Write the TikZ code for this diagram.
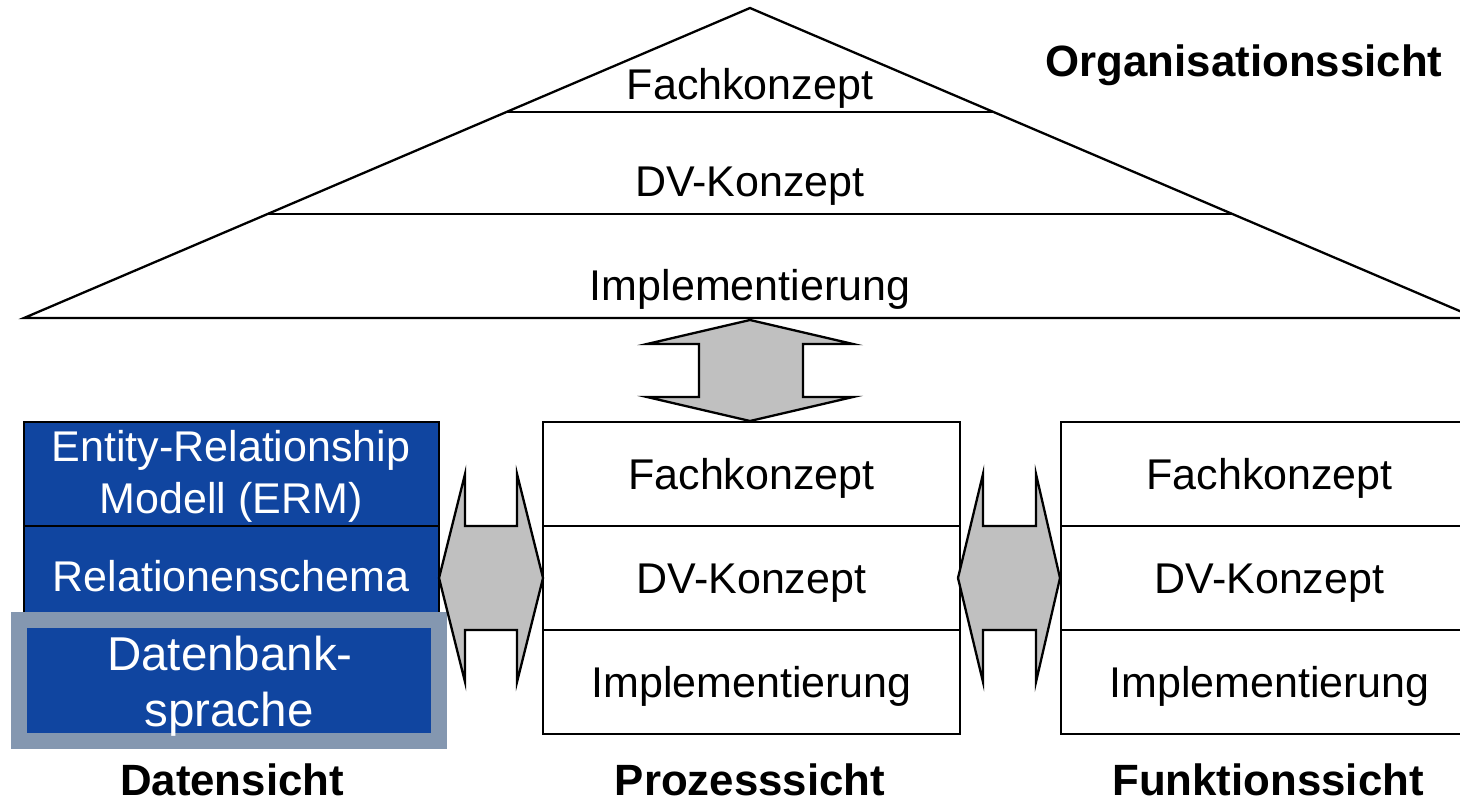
\documentclass[tikz,border=0pt]{standalone}
\usepackage{fontspec}
\setmainfont{Liberation Sans}
\definecolor{darkblue}{RGB}{16,69,160}
\definecolor{frameblue}{RGB}{132,151,176}
\definecolor{arrowgray}{RGB}{192,192,192}
\tikzset{
  lw/.style={line width=2.3pt},
  txt/.style={font=\fontsize{43}{52}\selectfont, inner sep=0pt},
  bigtxt/.style={font=\fontsize{47.5}{56}\selectfont, inner sep=0pt},
  boldtxt/.style={font=\fontsize{43.8}{52}\selectfont\bfseries, inner sep=0pt, anchor=base},
  cell/.style={lw, draw=black, fill=white, minimum width=417pt, minimum height=104pt,
     inner sep=0pt, text height=30.8pt, text depth=0pt, font=\fontsize{43}{52}\selectfont},
  bluecell/.style={lw, draw=black, fill=darkblue, text=white, minimum width=415pt, minimum height=104pt, inner sep=0pt},
  blockarrow/.style={lw, draw=black, fill=arrowgray, line join=miter},
}
\begin{document}
\begin{tikzpicture}[x=1pt,y=-1pt]
\clip (0,0) rectangle (1460,803);
\fill[white] (0,0) rectangle (1460,803);
% Organisationssicht triangle
\coordinate (apex) at (750,8);
\coordinate (bl) at (24,318);
\coordinate (br) at (1476,318);
\draw[lw, line join=miter] (bl) -- (apex) -- (br) -- cycle;
\draw[lw] (506,112) -- (994,112);
\draw[lw] (268,214) -- (1232,214);
\node[txt, anchor=base] (ofk) at (750,99) {Fachkonzept};
\node[txt, anchor=base] (odv) at (750,196) {DV-Konzept};
\node[txt, anchor=base] (oim) at (750,300) {Implementierung};
\node[boldtxt] (org) at (1244,76) {Organisationssicht};
% Prozesssicht
\node[cell] (pfk) at (751.5,474) {Fachkonzept};
\node[cell] (pdv) at (751.5,578) {DV-Konzept};
\node[cell] (pim) at (751.5,682) {Implementierung};
% Funktionssicht
\node[cell] (ffk) at (1269.5,474) {Fachkonzept};
\node[cell] (fdv) at (1269.5,578) {DV-Konzept};
\node[cell] (fim) at (1269.5,682) {Implementierung};
% Datensicht
\node[bluecell] (derm) at (231.5,474) {};
\node[bluecell] (drel) at (231.5,578) {};
\node[fill=frameblue, minimum width=436pt, minimum height=137pt, inner sep=0pt] (ddbframe) at (229,680.5) {};
\node[fill=darkblue, minimum width=404pt, minimum height=105pt, inner sep=0pt] (ddb) at (229,680.5) {};
\node[txt, text=white, anchor=base] (t1) at (231,461) {Entity-Relationship};
\node[txt, text=white, anchor=base] (t2) at (231,513) {Modell (ERM)};
\node[txt, text=white, anchor=base] (t3) at (231,591) {Relationenschema};
\node[bigtxt, text=white, anchor=base] (t4) at (230,670) {Datenbank-};
\node[bigtxt, text=white, anchor=base] (t5) at (229,726) {sprache};
% labels
\node[boldtxt] (ld) at (232,795) {Datensicht};
\node[boldtxt] (lp) at (750,795) {Prozesssicht};
\node[boldtxt] (lf) at (1268,795) {Funktionssicht};
% block arrows
\draw[blockarrow] (750,320) -- (853,344) -- (803,344) -- (803,397) -- (853,397) -- (750,421)
  -- (647,397) -- (699,397) -- (699,344) -- (647,344) -- cycle;
\draw[blockarrow] (439,578) -- (465,474) -- (465,526) -- (517,526) -- (517,474) -- (543,578)
  -- (517,682) -- (517,630) -- (465,630) -- (465,682) -- cycle;
\draw[blockarrow] (958,578) -- (983,474) -- (983,526) -- (1036,526) -- (1036,474) -- (1060,578)
  -- (1036,682) -- (1036,630) -- (983,630) -- (983,682) -- cycle;
\end{tikzpicture}
\end{document}
